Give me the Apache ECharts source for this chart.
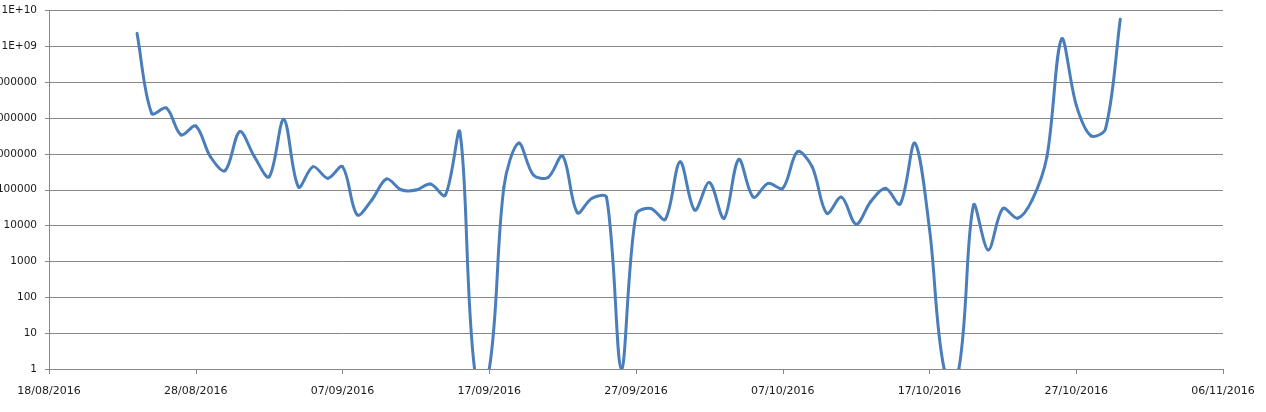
<!DOCTYPE html>
<html>
<head>
<meta charset="utf-8">
<script src="https://cdn.jsdelivr.net/npm/echarts@6/dist/echarts.min.js"></script>
<style>
html,body{margin:0;padding:0;background:#fff;}
#chart{width:1266px;height:412px;}
</style>
</head>
<body>
<div id="chart"></div>
<script>
// X axis range and tick step (days)
var axisStart = '18/08/2016';
var axisEnd = '06/11/2016';
var tickDays = 10;
// Y axis tick values (log scale)
var yTicks = [1, 10, 100, 1000, 10000, 100000, 1000000, 10000000, 100000000, 1000000000, 10000000000];

// Dates (categories)
var dates = [
 '24/08/2016','25/08/2016','26/08/2016','27/08/2016','28/08/2016','29/08/2016','30/08/2016','31/08/2016',
 '01/09/2016','02/09/2016','03/09/2016','04/09/2016','05/09/2016','06/09/2016','07/09/2016','08/09/2016',
 '09/09/2016','10/09/2016','11/09/2016','12/09/2016','13/09/2016','14/09/2016','15/09/2016','16/09/2016',
 '17/09/2016','18/09/2016','19/09/2016','20/09/2016','21/09/2016','22/09/2016','23/09/2016','24/09/2016',
 '25/09/2016','26/09/2016','27/09/2016','28/09/2016','29/09/2016','30/09/2016','01/10/2016','02/10/2016',
 '03/10/2016','04/10/2016','05/10/2016','06/10/2016','07/10/2016','08/10/2016','09/10/2016','10/10/2016',
 '11/10/2016','12/10/2016','13/10/2016','14/10/2016','15/10/2016','16/10/2016','17/10/2016','18/10/2016',
 '19/10/2016','20/10/2016','21/10/2016','22/10/2016','23/10/2016','24/10/2016','25/10/2016','26/10/2016',
 '27/10/2016','28/10/2016','29/10/2016','30/10/2016'
];
// Series values
var values = [
 2.3e9, 1.35e7, 1.9e7, 3.4e6, 6e6, 8.3e5, 3.4e5, 4.2e6,
 8.3e5, 2.3e5, 9.2e6, 1.2e5, 4.4e5, 2.1e5, 4.4e5, 2e4,
 5.2e4, 2e5, 1e5, 9.8e4, 1.45e5, 7e4, 4e6, 1,
 1, 1.2e5, 2e6, 2.6e5, 2.2e5, 8.7e5, 2.3e4, 5.8e4,
 6e4, 1, 2e4, 3e4, 1.5e4, 6e5, 2.7e4, 1.6e5,
 1.6e4, 7e5, 6.2e4, 1.5e5, 1.1e5, 1.15e6, 4.4e5, 2.2e4,
 6.2e4, 1.1e4, 4.7e4, 1.1e5, 4e4, 2e6, 8000, 1,
 1, 3.7e4, 2.1e3, 3e4, 1.6e4, 5.2e4, 8.3e5, 1.6e9,
 2.3e7, 3.2e6, 5.1e6, 5.7e9
];

function parseDate(s){var p=s.split('/');return Date.UTC(+p[2],+p[1]-1,+p[0]);}
var DAY=86400000;
var t0=parseDate(axisStart);
function dayIndex(s){return Math.round((parseDate(s)-t0)/DAY);}
function fmtDay(d){
  var dt=new Date(t0+Math.round(d)*DAY);
  var dd=('0'+dt.getUTCDate()).slice(-2), mm=('0'+(dt.getUTCMonth()+1)).slice(-2);
  return dd+'/'+mm+'/'+dt.getUTCFullYear();
}
var seriesData = dates.map(function(d,i){return [dayIndex(d), values[i]];});
var lineColor = '#4a7ebb';

// Excel-like smoothed line: each item draws the Bezier segment to the next point,
// control points from neighbouring points, weighted by segment lengths; all via api.coord.
function dist(a,b){var dx=a[0]-b[0],dy=a[1]-b[1];return Math.sqrt(dx*dx+dy*dy);}
function ctrl(pPrev,p,pNext,forward){
  var d1=dist(p,pPrev), d2=dist(pNext,p), s=1/3;
  var tot=d1+d2; if(tot===0) return [p[0],p[1]];
  var w = forward ? s*d2/tot : -s*d1/tot;
  return [p[0]+(pNext[0]-pPrev[0])*w, p[1]+(pNext[1]-pPrev[1])*w];
}
function renderItem(params, api){
  var i = params.dataIndex, n = seriesData.length;
  if(i >= n-1) return null;
  var p0 = api.coord(seriesData[Math.max(i-1,0)]);
  var p1 = api.coord(seriesData[i]);
  var p2 = api.coord(seriesData[i+1]);
  var p3 = api.coord(seriesData[Math.min(i+2,n-1)]);
  var c1 = ctrl(p0,p1,p2,true);
  var c2 = ctrl(p1,p2,p3,false);
  return {
    type:'bezierCurve',
    shape:{x1:p1[0], y1:p1[1], x2:p2[0], y2:p2[1], cpx1:c1[0], cpy1:c1[1], cpx2:c2[0], cpy2:c2[1]},
    style:{stroke:lineColor, lineWidth:3, fill:null, lineCap:'round', lineJoin:'round'}
  };
}

var chart = echarts.init(document.getElementById('chart'), null, {renderer:'canvas'});
var gridColor = '#878787';
chart.setOption({
  animation:false,
  backgroundColor:'#ffffff',
  grid:{left:49,right:43,top:10.5,bottom:43,containLabel:false,outerBoundsMode:'none'},
  xAxis:{
    type:'value',
    min:0,
    max:dayIndex(axisEnd),
    interval:tickDays,
    splitLine:{show:false},
    axisLine:{show:true,lineStyle:{color:gridColor,width:1}},
    axisTick:{show:true,length:5,lineStyle:{color:gridColor}},
    axisLabel:{
      margin:17,
      color:'#1a1a1a',
      fontFamily:'DejaVu Sans',
      fontSize:11,
      showMinLabel:true,showMaxLabel:true,
      formatter:function(v){return fmtDay(v);}
    }
  },
  yAxis:{
    type:'log',
    logBase:10,
    min:yTicks[0],
    max:yTicks[yTicks.length-1],
    interval:1,
    splitLine:{show:true,lineStyle:{color:gridColor,width:1}},
    axisLine:{show:true,lineStyle:{color:gridColor,width:1}},
    axisTick:{show:true,length:4,lineStyle:{color:gridColor}},
    axisLabel:{
      margin:12,
      color:'#1a1a1a',
      fontFamily:'DejaVu Sans',
      fontSize:10.5,
      formatter:function(v){
        var e=Math.round(Math.log(v)/Math.LN10);
        if(e>=9){return '1E+'+(e<10?'0'+e:e);}
        return String(Math.round(Math.pow(10,e)));
      }
    }
  },
  series:[{
    type:'custom',
    data:seriesData,
    encode:{x:0,y:1},
    clip:true,
    renderItem:renderItem,
    itemStyle:{color:lineColor}
  }]
});
</script>
</body>
</html>
